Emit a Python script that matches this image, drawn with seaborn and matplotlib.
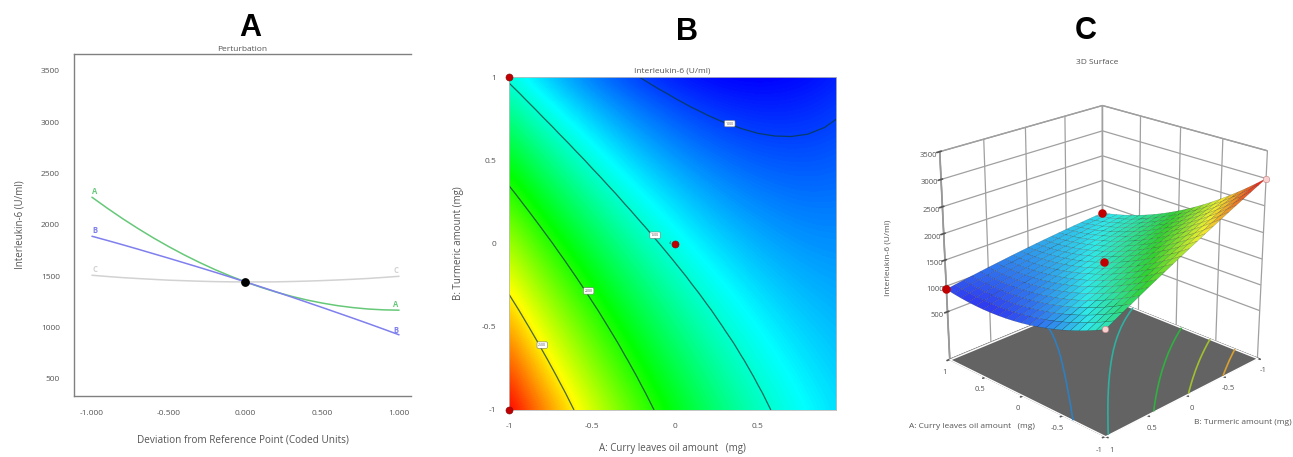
#!/usr/bin/env python3
"""Perturbation plot, contour map and 3D surface for interleukin-6."""

import matplotlib
matplotlib.use("Agg")
import matplotlib.pyplot as plt
import numpy as np
import pandas as pd
import seaborn as sns
from matplotlib.colors import LinearSegmentedColormap, Normalize

CODED = [-1.0, -0.9, -0.8, -0.7, -0.6, -0.5, -0.4, -0.3, -0.2, -0.1, 0.0,
         0.1, 0.2, 0.3, 0.4, 0.5, 0.6, 0.7, 0.8, 0.9, 1.0]

LINE_A = [2270, 2163, 2061, 1965, 1874, 1789, 1709, 1635, 1566, 1503, 1445,
          1393, 1346, 1305, 1269, 1239, 1214, 1195, 1181, 1173, 1170]
LINE_B = [1890, 1849, 1807, 1764, 1720, 1676, 1631, 1586, 1540, 1493, 1445,
          1397, 1348, 1298, 1247, 1196, 1144, 1092, 1039, 985, 930]
LINE_C = [1510, 1498, 1487, 1478, 1470, 1462, 1457, 1452, 1448, 1446, 1445,
          1445, 1446, 1449, 1453, 1458, 1464, 1471, 1479, 1489, 1500]
CENTER_IL6 = 1445

# rows: B from -1 to 1, columns: A from -1 to 1
IL6 = np.array([
    [3000, 2864, 2734, 2609, 2490, 2376, 2268, 2165, 2068, 1976, 1890, 1809, 1734, 1664, 1600, 1541, 1488, 1440, 1398, 1361, 1330],
    [2930, 2797, 2670, 2548, 2432, 2321, 2215, 2115, 2021, 1932, 1849, 1771, 1698, 1631, 1570, 1514, 1464, 1419, 1379, 1346, 1317],
    [2860, 2730, 2605, 2486, 2372, 2264, 2162, 2065, 1973, 1887, 1807, 1732, 1662, 1598, 1539, 1486, 1439, 1397, 1360, 1329, 1304],
    [2788, 2661, 2539, 2423, 2313, 2207, 2108, 2013, 1925, 1842, 1764, 1692, 1625, 1564, 1508, 1458, 1413, 1374, 1340, 1312, 1289],
    [2716, 2592, 2473, 2360, 2252, 2150, 2053, 1961, 1876, 1795, 1720, 1651, 1587, 1529, 1476, 1429, 1387, 1350, 1320, 1294, 1274],
    [2644, 2522, 2406, 2296, 2191, 2091, 1997, 1909, 1826, 1748, 1676, 1610, 1549, 1493, 1443, 1399, 1360, 1326, 1298, 1276, 1259],
    [2570, 2452, 2339, 2231, 2129, 2032, 1941, 1855, 1775, 1701, 1631, 1568, 1510, 1457, 1410, 1368, 1332, 1301, 1276, 1257, 1242],
    [2496, 2381, 2270, 2165, 2066, 1972, 1884, 1801, 1724, 1652, 1586, 1525, 1470, 1420, 1376, 1337, 1304, 1276, 1253, 1237, 1225],
    [2422, 2309, 2201, 2099, 2003, 1912, 1826, 1746, 1672, 1603, 1540, 1482, 1429, 1382, 1341, 1305, 1274, 1249, 1230, 1216, 1208],
    [2346, 2236, 2131, 2032, 1939, 1851, 1768, 1691, 1619, 1553, 1493, 1438, 1388, 1344, 1305, 1272, 1245, 1222, 1206, 1195, 1189],
    [2270, 2163, 2061, 1965, 1874, 1789, 1709, 1635, 1566, 1503, 1445, 1393, 1346, 1305, 1269, 1239, 1214, 1195, 1181, 1173, 1170],
    [2193, 2089, 1990, 1896, 1809, 1726, 1649, 1578, 1512, 1452, 1397, 1347, 1303, 1265, 1232, 1205, 1183, 1166, 1155, 1150, 1150],
    [2116, 2014, 1918, 1827, 1742, 1663, 1589, 1520, 1457, 1400, 1348, 1301, 1260, 1224, 1194, 1170, 1151, 1137, 1129, 1127, 1130],
    [2037, 1939, 1845, 1758, 1676, 1599, 1528, 1462, 1402, 1347, 1298, 1254, 1216, 1183, 1156, 1134, 1118, 1107, 1102, 1103, 1108],
    [1958, 1863, 1772, 1687, 1608, 1534, 1466, 1403, 1346, 1294, 1247, 1207, 1171, 1141, 1117, 1098, 1085, 1077, 1075, 1078, 1086],
    [1879, 1786, 1698, 1616, 1540, 1469, 1403, 1343, 1289, 1240, 1196, 1158, 1126, 1099, 1077, 1061, 1051, 1046, 1046, 1052, 1064],
    [1798, 1708, 1624, 1544, 1471, 1403, 1340, 1283, 1231, 1185, 1144, 1109, 1080, 1055, 1037, 1024, 1016, 1014, 1017, 1026, 1040],
    [1717, 1630, 1548, 1472, 1401, 1336, 1276, 1222, 1173, 1130, 1092, 1060, 1033, 1011, 996, 985, 981, 981, 987, 999, 1016],
    [1636, 1551, 1472, 1399, 1331, 1268, 1211, 1160, 1114, 1074, 1039, 1009, 985, 967, 954, 946, 944, 948, 957, 972, 992],
    [1553, 1472, 1395, 1325, 1260, 1200, 1146, 1097, 1054, 1017, 985, 958, 937, 921, 911, 907, 908, 914, 926, 943, 966],
    [1470, 1391, 1318, 1250, 1188, 1131, 1080, 1034, 994, 959, 930, 906, 888, 875, 868, 866, 870, 879, 894, 914, 940],
], dtype=float)

CONTOUR_LEVELS = [1000, 1500, 2000, 2500]
FLOOR_LEVELS = [1200, 1500, 1950, 2300, 2650]
DESIGN_A = [1, 1, 0, -1, -1]
DESIGN_B = [-1, 1, 0, -1, 1]
DESIGN_IL6 = [1330, 940, 1445, 3000, 1470]
MAP_POINTS_A = [-1, -1, 0]
MAP_POINTS_B = [1, -1, 0]
IL6_TICKS = [500, 1000, 1500, 2000, 2500, 3000, 3500]

GREY = "#555555"
GREEN = "#66C878"
BLUE = "#7F7FEE"
LIGHT = "#D2D2D2"
W, H = 1293, 457

sns.set_theme(style="white")
plt.rcParams["font.family"] = ["Open Sans", "DejaVu Sans"]
plt.rcParams["text.color"] = GREY
plt.rcParams["axes.labelcolor"] = GREY
plt.rcParams["xtick.color"] = GREY
plt.rcParams["ytick.color"] = GREY

fig = plt.figure(figsize=(W / 100, H / 100), dpi=100)


def box(x0, y0, x1, y1):
    return [x0 / W, 1 - y1 / H, (x1 - x0) / W, (y1 - y0) / H]


def perturbation_panel():
    ax = fig.add_axes(box(74, 54, 411, 396))
    df = pd.DataFrame({"x": CODED, "A": LINE_A, "B": LINE_B, "C": LINE_C}).melt(
        "x", var_name="factor", value_name="il6"
    )
    sns.lineplot(
        data=df, x="x", y="il6", hue="factor", ax=ax, legend=False, linewidth=1.1,
        palette={"A": GREEN, "B": BLUE, "C": LIGHT},
    )
    ax.scatter([0], [CENTER_IL6], s=28, color="black", zorder=5)
    for x, y, label, color in [
        (-0.98, 2330, "A", GREEN), (-0.98, 1950, "B", BLUE), (-0.98, 1570, "C", LIGHT),
        (0.98, 1225, "A", GREEN), (0.98, 975, "B", BLUE), (0.98, 1560, "C", LIGHT),
    ]:
        ax.text(x, y, label, color=color, fontsize=5.5, fontweight="bold", ha="center", va="center")
    ax.set_xlim(-1.117, 1.078)
    ax.set_ylim(334, 3665)
    ax.set_xticks([-1, -0.5, 0, 0.5, 1], ["-1.000", "-0.500", "0.000", "0.500", "1.000"])
    ax.set_yticks(IL6_TICKS)
    ax.tick_params(length=7, width=0.7, color="#888888", labelsize=6, pad=3)
    ax.spines["right"].set_visible(False)
    for side in ("left", "bottom", "top"):
        ax.spines[side].set_color("#808080")
        ax.spines[side].set_linewidth(1.0)
    ax.set_xlabel("Deviation from Reference Point (Coded Units)", fontsize=7.2, labelpad=13)
    ax.set_ylabel("Interleukin-6 (U/ml)", fontsize=7, labelpad=11)
    ax.set_title("Perturbation", fontsize=6, pad=2)


def contour_panel(cmap, norm):
    ax = fig.add_axes(box(509, 77, 836, 410))
    ax.imshow(IL6, origin="lower", extent=[-1.05, 1.05, -1.05, 1.05], cmap=cmap, norm=norm,
              interpolation="bicubic", aspect="auto")
    ax.contour(CODED, CODED, IL6, levels=CONTOUR_LEVELS, colors="#0A3A3A", linewidths=0.9, alpha=0.75)
    for x, y, label in [(0.33, 0.72, "1000"), (-0.12, 0.05, "1500"), (-0.52, -0.285, "2000"), (-0.8, -0.61, "2500")]:
        ax.text(x, y, label, fontsize=2.5, ha="center", va="center",
                bbox=dict(boxstyle="round,pad=0.35", fc="white", ec="#777777", lw=0.4))
    ax.scatter(MAP_POINTS_A, MAP_POINTS_B, s=26, color="#C00000", edgecolor="#801010", linewidth=0.4,
               clip_on=False, zorder=6)
    ax.text(-0.03, 0, "4", fontsize=3, ha="center", va="center")
    ax.set_xlim(-1, 0.97)
    ax.set_ylim(-1, 1)
    ax.set_xticks([-1, -0.5, 0, 0.5], ["-1", "-0.5", "0", "0.5"])
    ax.set_yticks([-1, -0.5, 0, 0.5, 1], ["-1", "-0.5", "0", "0.5", "1"])
    ax.tick_params(length=7, width=0.7, color="#999999", labelsize=6, pad=2)
    for spine in ax.spines.values():
        spine.set_color("#BBBBBB")
        spine.set_linewidth(0.6)
    ax.set_xlabel("A: Curry leaves oil amount   (mg)", fontsize=7, labelpad=10)
    ax.set_ylabel("B: Turmeric amount (mg)", fontsize=7, labelpad=13)
    ax.set_title("Interleukin-6 (U/ml)", fontsize=6, pad=3)


def surface_panel(norm):
    # same scale as the map, but the shaded surface reads a little duller
    cmap = LinearSegmentedColormap.from_list(
        "de_rainbow_dull", ["#3030F0", "#30E8E8", "#30D030", "#F0F030", "#E83020"]
    )
    floor = -450
    ax = fig.add_axes(box(902, 70, 1295, 457), projection="3d", computed_zorder=False)
    ax.patch.set_alpha(0)
    ax.set_proj_type("persp", focal_length=0.65)
    ax.view_init(elev=22.5, azim=134.5)
    ax.set_box_aspect((1, 1, 1.0), zoom=0.975)
    ax.set_xlim(-1, 1)
    ax.set_ylim(-1, 1)
    ax.set_zlim(floor, 3500)
    ax.set_xticks([-1, -0.5, 0, 0.5, 1], ["-1", "-0.5", "0", "0.5", "1"])
    ax.set_yticks([-1, -0.5, 0, 0.5, 1], ["-1", "-0.5", "0", "0.5", "1"])
    ax.set_zticks(IL6_TICKS)
    ax.zaxis.set_ticks_position("upper")
    ax.tick_params(labelsize=5.5)
    ax.tick_params(axis="x", pad=-3)
    ax.tick_params(axis="y", pad=-3)
    ax.tick_params(axis="z", pad=-3)
    for axis in (ax.xaxis, ax.yaxis, ax.zaxis):
        axis.set_pane_color((1, 1, 1, 1))
        axis.pane.set_edgecolor("#999999")
        axis.line.set_color("#999999")
        axis._axinfo["grid"].update(color="#A0A0A0", linewidth=0.9)
    ax.zaxis.set_pane_color("#636363")

    grid_a, grid_b = np.meshgrid(CODED, CODED)
    # floor drawn over the grid lines, the reference has none there
    ax.plot_surface(grid_a[[0, -1]][:, [0, -1]], grid_b[[0, -1]][:, [0, -1]], np.full((2, 2), float(floor)),
                    color="#636363", shade=False, zorder=1)
    ax.contour(CODED, CODED, IL6, levels=FLOOR_LEVELS, zdir="z", offset=floor,
               colors=["#2F7FC0", "#2FB0A0", "#30B040", "#A0C030", "#D8A030"], linewidths=1.2, zorder=2)
    ax.plot_surface(grid_a, grid_b, IL6, facecolors=cmap(norm(IL6)), rstride=1, cstride=1, shade=False,
                    edgecolor=(0, 0, 0, 0.35), linewidth=0.25, zorder=3)
    ax.scatter(DESIGN_A[:3], DESIGN_B[:3], DESIGN_IL6[:3], s=26, color="#C00000", depthshade=False, zorder=4)
    ax.scatter(DESIGN_A[3:], DESIGN_B[3:], DESIGN_IL6[3:], s=22, color="#F8D0D0", edgecolor="#C08080",
               linewidth=0.4, depthshade=False, zorder=4)

    fig.text(1097 / W, 1 - 63 / H, "3D Surface", fontsize=6, ha="center", va="center")
    fig.text(972 / W, 1 - 427 / H, "A: Curry leaves oil amount   (mg)", fontsize=6, ha="center", va="center")
    fig.text(1243 / W, 1 - 422 / H, "B: Turmeric amount (mg)", fontsize=6, ha="center", va="center")
    fig.text(888 / W, 1 - 258 / H, "Interleukin-6 (U/ml)", fontsize=6, rotation=90, ha="center", va="center")


def main():
    rainbow = LinearSegmentedColormap.from_list(
        "de_rainbow", ["#0000FF", "#00FFFF", "#00FF00", "#FFFF00", "#FF0000"]
    )
    norm = Normalize(IL6.min(), IL6.max())
    perturbation_panel()
    contour_panel(rainbow, norm)
    surface_panel(norm)
    for x, y, letter in [(250, 28, "A"), (687, 32, "B"), (1086, 31, "C")]:
        fig.text(x / W, 1 - y / H, letter, fontsize=22, fontweight="bold", family="Liberation Sans",
                 color="black", ha="center", va="center")
    fig.savefig("out.png", dpi=100)


if __name__ == "__main__":
    main()
